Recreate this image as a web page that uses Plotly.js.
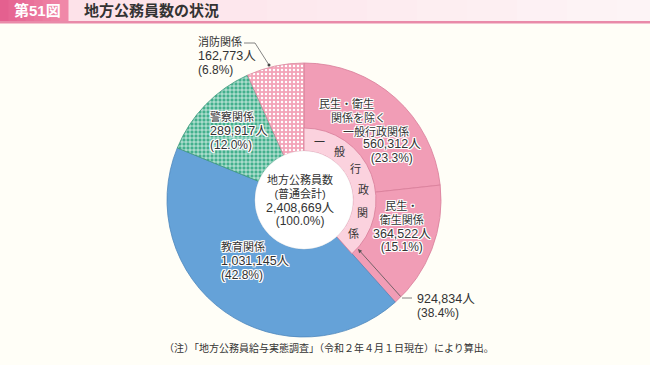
<!DOCTYPE html>
<html><head><meta charset="utf-8">
<script src="https://cdn.plot.ly/plotly-3.0.1.min.js"></script>
<style>html,body{margin:0;padding:0;background:#fffef7;} #chart{width:650px;height:365px;}</style>
</head><body><div id="chart"></div>
<script>
// ---- data ----
const categories = ['民生・衛生関係を除く一般行政関係', '民生・衛生関係', '教育関係', '警察関係', '消防関係'];
const values = [560312, 364522, 1031145, 289917, 162773];
const percents = [23.3, 15.1, 42.8, 12.0, 6.8];
const nameLines = [['民生・衛生', '関係を除く', '一般行政関係'], ['民生・', '衛生関係'], ['教育関係'], ['警察関係'], ['消防関係']];
const ringChars = ['一', '般', '行', '政', '関', '係'];
const ringValue = 924834;
const ringPercent = 38.4;
const totalLines = ['地方公務員数', '(普通会計)'];
const totalValue = 2408669;
const totalPercent = 100.0;
const noteText = '（注）「地方公務員給与実態調査」（令和２年４月１日現在）により算出。';
const figNo = '第51図';
const figTitle = '地方公務員数の状況';

// ---- layout helpers (pixels -> paper) ----
const W = 650, H = 365;
const px = x => x / W;
const py = y => 1 - y / H;
const CX = 304, CY = 200, R = 137, RW = 49, RR = 72;
function dom(r) { return {x: [px(CX - r), px(CX + r)], y: [py(CY + r), py(CY - r)]}; }
const sz = (s, n) => '<span style="font-size:' + n + 'px">' + s + '</span>';
const KS = 11, NS = 12.5, PS = 12;
const fmt = v => sz(v.toLocaleString('en-US') + '人', NS);
const pct = p => sz('(' + p.toFixed(1) + '%)', PS);
const nm = s => sz(s, KS);

const FONT = '"Liberation Sans", "Noto Sans CJK JP", sans-serif';
const TXT = '#333333';
const HALO = '1px 0 0 #fff, -1px 0 0 #fff, 0 1px 0 #fff, 0 -1px 0 #fff, 1px 1px 0 #fff, -1px -1px 0 #fff, 1px -1px 0 #fff, -1px 1px 0 #fff';

const traces = [
  {
    type: 'pie', values: values, labels: categories, sort: false, direction: 'clockwise', rotation: 0,
    domain: dom(R), hole: RW / R, textinfo: 'none', hoverinfo: 'skip', showlegend: false,
    marker: {
      colors: ['#f19db6', '#f19db6', '#65a2d8', '#43b08d', '#f3a3b8'],
      line: {color: ['#d87d99', '#d87d99', '#4f88bd', '#3a977a', '#d98aa0'], width: 0.8},
      pattern: {
        shape: ['', '', '', '+', '.'],
        bgcolor: ['#f19db6', '#f19db6', '#65a2d8', '#43b08d', '#f3a3b8'],
        fgcolor: ['#ffffff', '#ffffff', '#ffffff', '#ffffff', '#ffffff'],
        fillmode: 'replace', size: 4, solidity: 0.3
      }
    }
  },
  {
    type: 'pie', values: [ringValue, totalValue - ringValue], labels: ['一般行政関係', 'その他'], sort: false,
    direction: 'clockwise', rotation: 0, domain: dom(RR), hole: RW / RR, textinfo: 'none', hoverinfo: 'skip',
    showlegend: false,
    marker: {colors: ['#fbd2de', 'rgba(0,0,0,0)'], line: {color: ['#d87d99', 'rgba(0,0,0,0)'], width: [0.8, 0]}}
  },
  {
    type: 'pie', values: [totalValue], labels: ['合計'], sort: false, domain: dom(RW), textinfo: 'none',
    hoverinfo: 'skip', showlegend: false, marker: {colors: ['#ffffff'], line: {color: '#eeeeee', width: 0.5}}
  }
];

const ann = [];
function txt(s, x, y, anchor, opts) {
  opts = opts || {};
  ann.push({text: s, x: px(x), y: py(y), xref: 'paper', yref: 'paper', showarrow: false,
    xanchor: anchor || 'left', yanchor: 'middle', align: opts.align || anchor || 'left', borderpad: 0,
    font: {family: FONT, size: opts.size || 10.6, color: opts.color || TXT, shadow: opts.halo ? HALO : 'none',
      weight: opts.weight || 'normal'}});
}
// slice labels
txt(nm(nameLines[0][0]), 318, 103, 'left', {halo: true});
txt(nm(nameLines[0][1]), 330, 117, 'left', {halo: true});
txt(nm(nameLines[0][2]), 342, 131, 'left', {halo: true});
txt(fmt(values[0]) + '<br>' + pct(percents[0]), 392, 151, 'center', {halo: true});
txt(nameLines[1].map(nm).concat([fmt(values[1]), pct(percents[1])]).join('<br>'), 402, 226, 'center', {halo: true});
const blockPos = {2: [220, 261], 3: [209, 131], 4: [197, 56]};
[2, 3, 4].forEach(i => {
  const s = nameLines[i].map(nm).concat([fmt(values[i]), pct(percents[i])]).join('<br>');
  txt(s, blockPos[i][0], blockPos[i][1], 'left', {halo: i !== 4});
});
// ring text
ringChars.forEach((ch, k) => {
  const a = (15 + k * 21.8) * Math.PI / 180;
  txt(ch, CX + 60 * Math.sin(a), CY - 60 * Math.cos(a), 'center', {size: 11});
});
// center text
txt(totalLines.map(nm).concat([fmt(totalValue), pct(totalPercent)]).join('<br>'), 300, 200, 'center');
// ring total label
txt(fmt(ringValue) + '<br>' + pct(ringPercent), 416, 306, 'left');
// arrow to ring
ann.push({x: px(358), y: py(249), xref: 'paper', yref: 'paper', showarrow: true, ax: 44, ay: 49,
  arrowhead: 2, arrowsize: 1, arrowwidth: 0.8, arrowcolor: '#555', text: ''});
// note
txt(noteText, 163, 348, 'left', {size: 10});
// titles
txt(figNo, 37, 11, 'center', {size: 15, color: '#ffffff', weight: 'bold'});
txt(figTitle, 83, 11, 'left', {size: 15, color: '#333333', weight: 'bold'});

const shapes = [];
function rect(x0, y0, x1, y1, c) {
  shapes.push({type: 'rect', xref: 'paper', yref: 'paper', x0: px(x0), x1: px(x1), y0: py(y1), y1: py(y0),
    fillcolor: c, line: {width: 0}, layer: 'below'});
}
for (let i = 0; i < 13; i++) {
  const t = i / 12;
  const g = Math.round(226 + t * 20), b = Math.round(233 + t * 14);
  rect(67 + i * 50, 0, 67 + (i + 1) * 50 + 1, 21, `rgb(253,${g},${b})`);
}
for (let i = 0; i < 8; i++) {
  const t = i / 7;
  rect(i * 8.5, 0, (i + 1) * 8.5 + 0.5, 21, `rgb(${Math.round(228 + t * 12)},${Math.round(96 + t * 40)},${Math.round(143 + t * 25)})`);
}
rect(0, 21, 650, 23.5, '#e98aa9');
function line(pts) {
  let d = 'M' + pts.map(p => px(p[0]) + ',' + py(p[1])).join(' L');
  shapes.push({type: 'path', xref: 'paper', yref: 'paper', path: d, line: {color: '#666', width: 0.8}});
}
line([[244, 43], [255, 43], [269, 65]]);
shapes.push({type: 'circle', xref: 'paper', yref: 'paper', x0: px(267.5), x1: px(270.5), y0: py(66.5), y1: py(63.5),
  fillcolor: '#444', line: {width: 0}});
line([[402, 298], [412, 298]]);

const layout = {
  width: W, height: H, margin: {l: 0, r: 0, t: 0, b: 0},
  paper_bgcolor: '#fffef7', plot_bgcolor: '#fffef7',
  annotations: ann, shapes: shapes, showlegend: false
};
Plotly.newPlot('chart', traces, layout, {displayModeBar: false, staticPlot: true});
</script>
</body></html>
